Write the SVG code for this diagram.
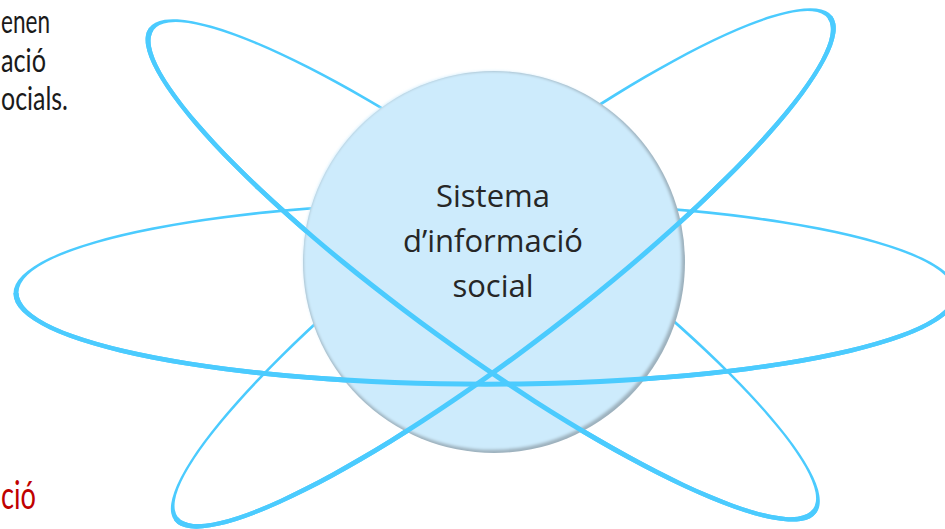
<svg xmlns="http://www.w3.org/2000/svg" xmlns:xlink="http://www.w3.org/1999/xlink" width="945" height="529" viewBox="0 0 945 529">
  <style>
    .ring { fill: #4BCBFE; fill-rule: evenodd; }
    .lbl { font-family: "Open Sans", "Liberation Sans", sans-serif; fill: #262626; }
    .side { font-family: Lato, "Open Sans", "Liberation Sans", sans-serif; fill: #1a1a1a; }
    .red { font-family: Lato, "Open Sans", "Liberation Sans", sans-serif; fill: #C00000; }
  </style>
  <defs>
    <path id="ringH" d="M -472.5 0.5 A 472.5 93.2 0 1 0 472.5 0.5 A 472.5 93.2 0 1 0 -472.5 0.5 Z M -467.5 -0.5 A 467.5 89.2 0 1 0 467.5 -0.5 A 467.5 89.2 0 1 0 -467.5 -0.5 Z"/>
    <path id="ringA" d="M -412.5 0.5 A 412.5 81.2 0 1 0 412.5 0.5 A 412.5 81.2 0 1 0 -412.5 0.5 Z M -407.5 -0.5 A 407.5 77.2 0 1 0 407.5 -0.5 A 407.5 77.2 0 1 0 -407.5 -0.5 Z"/>
    <path id="ringB" d="M -414.5 0.5 A 414.5 80.2 0 1 0 414.5 0.5 A 414.5 80.2 0 1 0 -414.5 0.5 Z M -409.5 -0.5 A 409.5 76.2 0 1 0 409.5 -0.5 A 409.5 76.2 0 1 0 -409.5 -0.5 Z"/>
    <clipPath id="front" clipPathUnits="userSpaceOnUse">
      <rect x="-520" y="0" width="1040" height="200"/>
    </clipPath>
    <filter id="soft" x="-5%" y="-5%" width="110%" height="110%">
      <feGaussianBlur stdDeviation="1.4"/>
    </filter>
  </defs>

  <g id="orbits-back">
    <use xlink:href="#ringH" class="ring" transform="translate(486,293)"/>
    <use xlink:href="#ringA" class="ring" transform="translate(483,270) rotate(36)"/>
    <use xlink:href="#ringB" class="ring" transform="translate(503,268) rotate(-37.5)"/>
  </g>

  <g id="node-sistema">
    <circle cx="494" cy="262" r="191" fill="#9DB1BD"/>
    <circle cx="492.5" cy="260.5" r="189.3" fill="#CDEBFC" filter="url(#soft)"/>
  </g>

  <g id="orbits-front">
    <g transform="translate(486,293)"><use xlink:href="#ringH" class="ring" clip-path="url(#front)"/></g>
    <g transform="translate(483,270) rotate(36)"><use xlink:href="#ringA" class="ring" clip-path="url(#front)"/></g>
    <g transform="translate(503,268) rotate(-37.5)"><use xlink:href="#ringB" class="ring" clip-path="url(#front)"/></g>
  </g>

  <g id="node-sistema-label" class="lbl" font-size="31" text-anchor="middle">
    <text x="493" y="207">Sistema</text>
    <text x="493" y="252">d’informació</text>
    <text x="493" y="297">social</text>
  </g>

  <g id="text-left" class="side" font-size="32">
    <text x="1" y="33" textLength="49" lengthAdjust="spacingAndGlyphs">enen</text>
    <text x="1" y="72" textLength="45" lengthAdjust="spacingAndGlyphs">ació</text>
    <text x="1" y="110" textLength="67" lengthAdjust="spacingAndGlyphs">ocials.</text>
  </g>

  <g id="text-red">
    <text class="red" x="1" y="509" font-size="39" textLength="35" lengthAdjust="spacingAndGlyphs">ció</text>
  </g>
</svg>
